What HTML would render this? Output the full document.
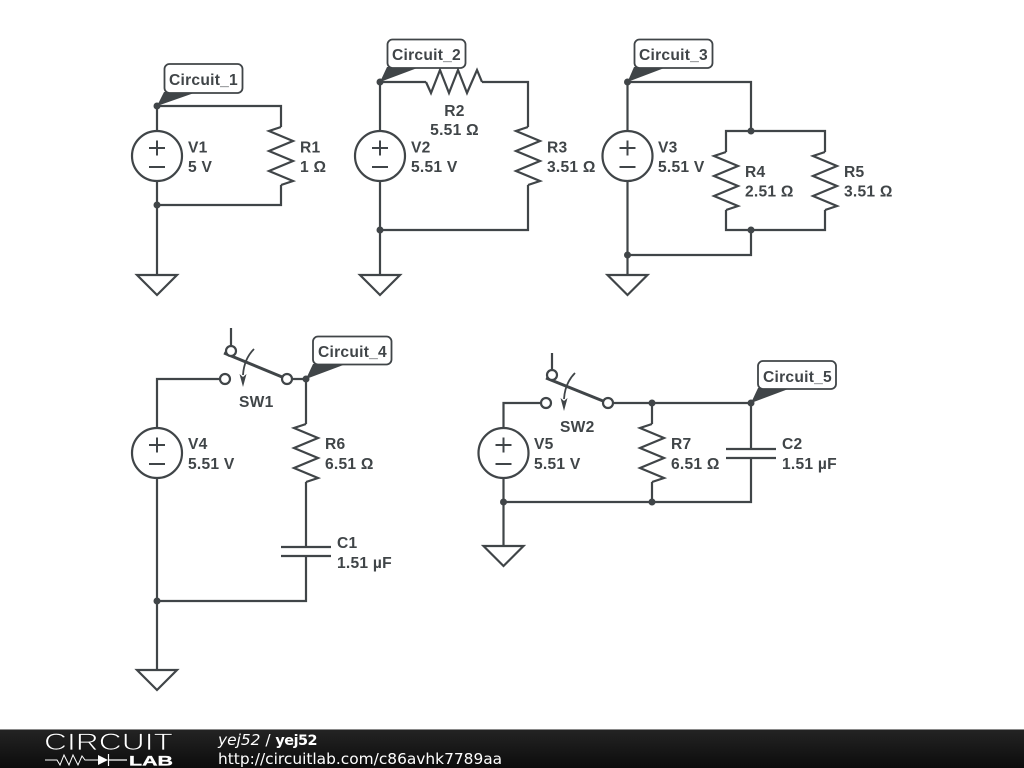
<!DOCTYPE html>
<html>
<head>
<meta charset="utf-8">
<style>
html,body{margin:0;padding:0;background:#fff;width:1024px;height:768px;overflow:hidden}
svg{display:block}
.w{fill:none;stroke:#404548;stroke-width:2.200;stroke-linejoin:miter}
.n{fill:#404548;stroke:none}
.t{fill:#404548;font-family:"Liberation Sans",sans-serif;font-weight:bold;font-size:15.600px;letter-spacing:.25px}
.b{fill:#fff;stroke:#404548;stroke-width:1.800}
.c{fill:#fff;stroke:#404548;stroke-width:2.200}
.s{fill:none;stroke:#404548;stroke-width:2}
.f{font-family:"DejaVu Sans",sans-serif;font-size:15.400px;fill:#fff}
</style>
</head>
<body>
<svg width="1024" height="768" viewBox="0 0 1024 768" xmlns="http://www.w3.org/2000/svg">
<defs>
<linearGradient id="g" x1="0" y1="0" x2="0" y2="1"><stop offset="0" stop-color="#242424"/><stop offset="1" stop-color="#0c0c0c"/></linearGradient>
<g id="res"><polyline class="w" points="0,-29 -12,-25 12,-15 -12,-5 12,5 -12,15 12,25 0,29"/></g>
<g id="src"><circle class="c" cx="0" cy="0" r="25"/><path class="s" d="M-8,-8H8M0,-15.500V-0.500M-8,11H8"/></g>
<g id="gnd"><polygon class="w" points="-20,0 20,0 0,20"/></g>
<g id="arr"><path d="M0,0Q-10,10 -11,26" fill="none" stroke="#404548" stroke-width="1.800"/><polygon class="n" points="-14.500,25 -11,28 -7.500,25 -11,38"/></g>
</defs>

<!-- Circuit 1 -->
<path class="w" d="M157,106V131M157,181V275M157,106H281V127M281,185V205H157"/>
<use href="#src" x="157" y="156"/>
<use href="#res" x="281" y="156"/>
<use href="#gnd" x="157" y="275"/>
<circle class="n" cx="157" cy="106" r="3.500"/><circle class="n" cx="157" cy="205" r="3.500"/>
<polygon class="n" points="157,106 164,92 197,92"/>
<rect class="b" x="164.500" y="64" width="78" height="29" rx="5"/>
<text class="t" x="169" y="85">Circuit_1</text>
<text class="t" x="188" y="152.500">V1</text><text class="t" x="188" y="172">5 V</text>
<text class="t" x="300" y="152.500">R1</text><text class="t" x="300" y="172">1 Ω</text>

<!-- Circuit 2 -->
<path class="w" d="M380,82V131M380,181V275M380,82H426M482,82H528V127M528,185V230H380"/>
<polyline class="w" points="426,82 431,93 440,70 449,93 458,70 467,93 477,70 482,82"/>
<use href="#src" x="380" y="156"/>
<use href="#res" x="528" y="156"/>
<use href="#gnd" x="380" y="275"/>
<circle class="n" cx="380" cy="82" r="3.500"/><circle class="n" cx="380" cy="230" r="3.500"/>
<polygon class="n" points="380,82 387,67 420,67"/>
<rect class="b" x="387.500" y="39.500" width="78" height="28.500" rx="5"/>
<text class="t" x="392" y="60">Circuit_2</text>
<text class="t" x="454.500" y="116" text-anchor="middle">R2</text><text class="t" x="454.500" y="135" text-anchor="middle">5.51 Ω</text>
<text class="t" x="411" y="152.500">V2</text><text class="t" x="411" y="172">5.51 V</text>
<text class="t" x="547" y="152.500">R3</text><text class="t" x="547" y="172">3.51 Ω</text>

<!-- Circuit 3 -->
<path class="w" d="M627.500,82V131M627.500,181V275M627.500,82H751V131M726,152V131H825V152M726,210V230H825V210M751,230V255H627.500"/>
<use href="#src" x="627.500" y="156"/>
<use href="#res" x="726" y="181"/>
<use href="#res" x="825" y="181"/>
<use href="#gnd" x="627.500" y="275"/>
<circle class="n" cx="627.500" cy="82" r="3.500"/><circle class="n" cx="751" cy="131" r="3.500"/><circle class="n" cx="751" cy="230" r="3.500"/><circle class="n" cx="627.500" cy="255" r="3.500"/>
<polygon class="n" points="627.500,82 634,67 667,67"/>
<rect class="b" x="634.500" y="39.500" width="78" height="28.500" rx="5"/>
<text class="t" x="639" y="60">Circuit_3</text>
<text class="t" x="658" y="152.500">V3</text><text class="t" x="658" y="172">5.51 V</text>
<text class="t" x="745" y="177">R4</text><text class="t" x="745" y="196.500">2.51 Ω</text>
<text class="t" x="844" y="177">R5</text><text class="t" x="844" y="196.500">3.51 Ω</text>

<!-- Circuit 4 -->
<path class="w" d="M157,428V379H220M157,478V670M231,328V347M291,379H306V424M306,482V547M306,556V601H157"/>
<path class="w" d="M281,547H331M281,556H331"/>
<use href="#src" x="157" y="453"/>
<use href="#res" x="306" y="453"/>
<use href="#gnd" x="157" y="670"/>
<line x1="224" y1="353" x2="287" y2="379" stroke="#404548" stroke-width="3"/>
<circle class="c" cx="225" cy="379" r="5"/><circle class="c" cx="287" cy="379" r="5"/><circle class="c" cx="231" cy="351" r="5"/>
<use href="#arr" x="254" y="349"/>
<circle class="n" cx="306" cy="379" r="3.500"/><circle class="n" cx="157" cy="601" r="3.500"/>
<polygon class="n" points="306,379 313,364 346,364"/>
<rect class="b" x="313" y="336.500" width="78.500" height="28" rx="5"/>
<text class="t" x="318" y="357">Circuit_4</text>
<text class="t" x="239" y="407">SW1</text>
<text class="t" x="188" y="449">V4</text><text class="t" x="188" y="469">5.51 V</text>
<text class="t" x="325" y="449">R6</text><text class="t" x="325" y="469">6.51 Ω</text>
<text class="t" x="337" y="548">C1</text><text class="t" x="337" y="568">1.51 µF</text>

<!-- Circuit 5 -->
<path class="w" d="M503.500,428V403H541M503.500,478V546M552,353V371M613,403H751V449M751,458V502H503.500"/>
<path class="w" d="M652,403V424M652,482V502M726,449H776M726,458H776"/>
<use href="#src" x="503.500" y="453"/>
<use href="#res" x="652" y="453"/>
<use href="#gnd" x="503.500" y="546"/>
<line x1="546" y1="378" x2="608" y2="403" stroke="#404548" stroke-width="3"/>
<circle class="c" cx="546" cy="403" r="5"/><circle class="c" cx="608" cy="403" r="5"/><circle class="c" cx="552" cy="375" r="5"/>
<use href="#arr" x="575" y="373"/>
<circle class="n" cx="652" cy="403" r="3.500"/><circle class="n" cx="751" cy="403" r="3.500"/><circle class="n" cx="503.500" cy="502" r="3.500"/><circle class="n" cx="652" cy="502" r="3.500"/>
<polygon class="n" points="751,403 758,388 791,388"/>
<rect class="b" x="758" y="361" width="78" height="28" rx="5"/>
<text class="t" x="763" y="382">Circuit_5</text>
<text class="t" x="560" y="432">SW2</text>
<text class="t" x="534" y="449">V5</text><text class="t" x="534" y="469">5.51 V</text>
<text class="t" x="671" y="449">R7</text><text class="t" x="671" y="469">6.51 Ω</text>
<text class="t" x="782" y="449">C2</text><text class="t" x="782" y="469">1.51 µF</text>

<!-- Footer -->
<rect x="0" y="729" width="1024" height="39" fill="url(#g)"/>
<rect x="0" y="729" width="1024" height="1" fill="#8a8a8a"/>
<text x="44" y="750" font-family="Liberation Sans,sans-serif" font-size="24.500" fill="#fff" stroke="#181818" stroke-width="0.800" textLength="129" lengthAdjust="spacingAndGlyphs">CIRCUIT</text>
<polyline points="45,760 57,760 60,765 64,755 69,765 73,755 78,765 82,756 85,760 98,760" fill="none" stroke="#fff" stroke-width="1"/>
<polygon points="98,755 98,765 108,760" fill="#fff"/>
<path d="M108.500,754V766M108.500,760H127" stroke="#fff" stroke-width="1.200" fill="none"/>
<text x="129" y="765.500" font-family="Liberation Sans,sans-serif" font-weight="bold" font-size="14" fill="#fff" stroke="#fff" stroke-width="0.300" textLength="44" lengthAdjust="spacingAndGlyphs">LAB</text>
<text class="f" x="218" y="745"><tspan font-style="italic">yej52</tspan> / <tspan font-weight="bold" font-size="14.400" letter-spacing="-0.500">yej52</tspan></text>
<text class="f" x="218" y="764">http://circuitlab.com/c86avhk7789aa</text>
</svg>
</body>
</html>
